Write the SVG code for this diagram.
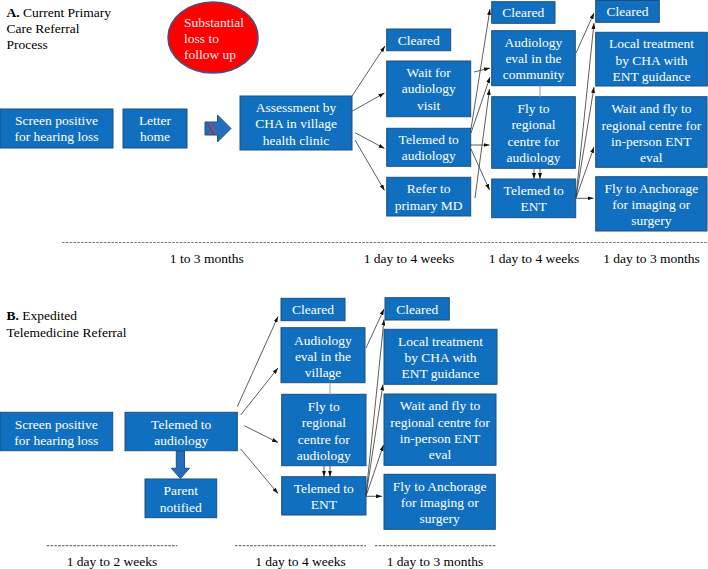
<svg xmlns="http://www.w3.org/2000/svg" width="708" height="569" viewBox="0 0 708 569">
<defs>
<style>
.bx{fill:#116fc0;stroke:#1d4f80;stroke-width:1}
.t{font-family:"Liberation Serif","Times New Roman",serif;font-size:13.5px;fill:#fff;text-anchor:middle}
.h{font-family:"Liberation Serif","Times New Roman",serif;font-size:13.5px;fill:#000}
.lb{font-family:"Liberation Serif","Times New Roman",serif;font-size:13.5px;fill:#000;text-anchor:middle}
.c{stroke:#333;stroke-width:0.8;fill:none;marker-end:url(#ah)}
.g{stroke:#a8aeb8;stroke-width:1.2;fill:none}
.d{stroke:#777;stroke-width:1.2;stroke-dasharray:2.6 1.2;fill:none}
.ba{fill:#1f6fbe;stroke:#2b4f7e;stroke-width:1}
</style>
<marker id="ah" viewBox="0 0 6 4" refX="6" refY="2" markerWidth="6" markerHeight="4" markerUnits="userSpaceOnUse" orient="auto"><path d="M0,0 L6,2 L0,4 z" fill="#111"/></marker>
</defs>
<rect width="708" height="569" fill="#fff"/>

<!-- Panel A -->
<g id="titleA"><text class="h" x="6.5" y="16.5"><tspan font-weight="bold">A.</tspan> Current Primary</text><text class="h" x="6.5" y="33">Care Referral</text><text class="h" x="6.5" y="49">Process</text></g>

<g id="lossA"><ellipse cx="213" cy="37.5" rx="45" ry="35.5" fill="#fe0000" stroke="#44508a" stroke-width="1.5"/>
<text class="h" x="184" y="27" style="fill:#ffeef0">Substantial</text><text class="h" x="184" y="43" style="fill:#ffeef0">loss to</text><text class="h" x="184" y="58.5" style="fill:#ffeef0">follow up</text></g>

<g id="screenA"><rect class="bx" x="0" y="109" width="113" height="39"/><text class="t" x="56.5" y="125">Screen positive</text><text class="t" x="56.5" y="141">for hearing loss</text></g>
<g id="letterA"><rect class="bx" x="123" y="109" width="64" height="39"/><text class="t" x="155" y="125">Letter</text><text class="t" x="155" y="141">home</text></g>
<g id="blockArrowA"><path class="ba" d="M205,122 L217.5,122 L217.5,115 L231,128.5 L217.5,142 L217.5,135 L205,135 Z"/><text x="211.5" y="134" font-family="Liberation Serif, serif" font-size="15" fill="#b8303e" text-anchor="middle">X</text></g>
<g id="assessA"><rect class="bx" x="240" y="96" width="112" height="54"/><text class="t" x="296" y="111.5">Assessment by</text><text class="t" x="296" y="128">CHA in village</text><text class="t" x="296" y="144.5">health clinic</text></g>

<g id="clearedA2"><rect class="bx" x="386.7" y="29" width="64" height="21.7"/><text class="t" x="418.7" y="44.5">Cleared</text></g>
<g id="waitAud"><rect class="bx" x="386.7" y="61" width="84" height="55.7"/><text class="t" x="428.7" y="77">Wait for</text><text class="t" x="428.7" y="93.3">audiology</text><text class="t" x="428.7" y="109.5">visit</text></g>
<g id="telAudA"><rect class="bx" x="386.7" y="128.3" width="84" height="38"/><text class="t" x="428.7" y="143.7">Telemed to</text><text class="t" x="428.7" y="160">audiology</text></g>
<g id="referMD"><rect class="bx" x="386.7" y="177.3" width="84" height="38.7"/><text class="t" x="428.7" y="193">Refer to</text><text class="t" x="428.7" y="209.5">primary MD</text></g>

<g id="clearedA3"><rect class="bx" x="491.7" y="1.7" width="63.3" height="21.6"/><text class="t" x="523.3" y="17">Cleared</text></g>
<g id="audEvalA"><rect class="bx" x="491.7" y="30.7" width="83.6" height="55"/><text class="t" x="533.5" y="46.8">Audiology</text><text class="t" x="533.5" y="63.2">eval in the</text><text class="t" x="533.5" y="79.3">community</text></g>
<g id="flyAudA"><rect class="bx" x="491.7" y="96.7" width="83.6" height="71.6"/><text class="t" x="533.5" y="112.8">Fly to</text><text class="t" x="533.5" y="129.3">regional</text><text class="t" x="533.5" y="145.7">centre for</text><text class="t" x="533.5" y="162">audiology</text></g>
<g id="telEntA"><rect class="bx" x="491.7" y="179" width="84" height="38.7"/><text class="t" x="533.7" y="194.8">Telemed to</text><text class="t" x="533.7" y="211.2">ENT</text></g>

<g id="clearedA4"><rect class="bx" x="595.7" y="0.5" width="63.6" height="21.8"/><text class="t" x="627.5" y="16">Cleared</text></g>
<g id="localA"><rect class="bx" x="595.7" y="32.3" width="111.6" height="53.7"/><text class="t" x="651.5" y="48">Local treatment</text><text class="t" x="651.5" y="64.5">by CHA with</text><text class="t" x="651.5" y="80.5">ENT guidance</text></g>
<g id="waitFlyA"><rect class="bx" x="595.7" y="96.7" width="111.3" height="70.6"/><text class="t" x="651.3" y="112.8">Wait and fly to</text><text class="t" x="651.3" y="129.5">regional centre for</text><text class="t" x="651.3" y="145.8">in-person ENT</text><text class="t" x="651.3" y="162">eval</text></g>
<g id="anchA"><rect class="bx" x="595.7" y="176.7" width="111.3" height="54.3"/><text class="t" x="651.3" y="193">Fly to Anchorage</text><text class="t" x="651.3" y="209.2">for imaging or</text><text class="t" x="651.3" y="225.3">surgery</text></g>

<g id="timelineA">
<line class="d" x1="62" y1="242.5" x2="708" y2="242.5"/>
<text class="lb" x="206.7" y="263">1 to 3 months</text>
<text class="lb" x="409" y="263">1 day to 4 weeks</text>
<text class="lb" x="534" y="263">1 day to 4 weeks</text>
<text class="lb" x="651.5" y="263">1 day to 3 months</text>
</g>

<!-- Panel B -->
<g id="titleB"><text class="h" x="6.5" y="320"><tspan font-weight="bold">B.</tspan> Expedited</text><text class="h" x="6.5" y="336.5">Telemedicine Referral</text></g>

<g id="screenB"><rect class="bx" x="0" y="412.3" width="112.7" height="38.4"/><text class="t" x="56.3" y="428.5">Screen positive</text><text class="t" x="56.3" y="445">for hearing loss</text></g>
<g id="telAudB"><rect class="bx" x="125" y="412.3" width="112.3" height="38.4"/><text class="t" x="181.2" y="428.5">Telemed to</text><text class="t" x="181.2" y="445">audiology</text></g>
<g id="blockArrowB"><path class="ba" d="M176.3,451 L184.5,451 L184.5,468.3 L189.5,468.3 L180.4,478.5 L171.3,468.3 L176.3,468.3 Z"/></g>
<g id="parentB"><rect class="bx" x="145" y="479" width="71.7" height="38.7"/><text class="t" x="180.8" y="495">Parent</text><text class="t" x="180.8" y="511.5">notified</text></g>

<g id="clearedB2"><rect class="bx" x="281" y="298.3" width="64" height="22.4"/><text class="t" x="313" y="314">Cleared</text></g>
<g id="audEvalB"><rect class="bx" x="281" y="327.7" width="84" height="55"/><text class="t" x="323" y="344.5">Audiology</text><text class="t" x="323" y="361">eval in the</text><text class="t" x="323" y="377">village</text></g>
<g id="flyAudB"><rect class="bx" x="281.7" y="394.3" width="84.3" height="71.4"/><text class="t" x="323.8" y="410.5">Fly to</text><text class="t" x="323.8" y="427">regional</text><text class="t" x="323.8" y="443.5">centre for</text><text class="t" x="323.8" y="459.8">audiology</text></g>
<g id="telEntB"><rect class="bx" x="281.7" y="476.7" width="84.3" height="38.3"/><text class="t" x="323.8" y="492.8">Telemed to</text><text class="t" x="323.8" y="509.2">ENT</text></g>

<g id="clearedB3"><rect class="bx" x="385" y="297.7" width="64.3" height="22.3"/><text class="t" x="417.2" y="313.5">Cleared</text></g>
<g id="localB"><rect class="bx" x="384" y="329.3" width="113" height="55"/><text class="t" x="440.5" y="345.5">Local treatment</text><text class="t" x="440.5" y="362">by CHA with</text><text class="t" x="440.5" y="378">ENT guidance</text></g>
<g id="waitFlyB"><rect class="bx" x="384" y="394" width="112" height="71.3"/><text class="t" x="440" y="410">Wait and fly to</text><text class="t" x="440" y="426.5">regional centre for</text><text class="t" x="440" y="442.8">in-person ENT</text><text class="t" x="440" y="459">eval</text></g>
<g id="anchB"><rect class="bx" x="384" y="474.3" width="111.3" height="55"/><text class="t" x="439.7" y="490.5">Fly to Anchorage</text><text class="t" x="439.7" y="507">for imaging or</text><text class="t" x="439.7" y="523">surgery</text></g>

<g id="timelineB">
<line class="d" x1="46.7" y1="545.7" x2="177.3" y2="545.7"/>
<line class="d" x1="235" y1="545.7" x2="366" y2="545.7"/>
<line class="d" x1="375" y1="545.7" x2="496.7" y2="545.7"/>
<text class="lb" x="112" y="565.5">1 day to 2 weeks</text>
<text class="lb" x="300.5" y="565.5">1 day to 4 weeks</text>
<text class="lb" x="435" y="565.5">1 day to 3 months</text>
</g>

<g id="connectors">
<!-- A -->
<line class="c" x1="352" y1="96" x2="385" y2="46"/>
<line class="c" x1="352.5" y1="111" x2="384.5" y2="93"/>
<line class="c" x1="355" y1="132.7" x2="384.5" y2="148.5"/>
<line class="c" x1="355" y1="140" x2="384.5" y2="190.5"/>
<line class="c" x1="474" y1="72" x2="490" y2="68"/>
<line class="c" x1="471" y1="129" x2="490" y2="9"/>
<line class="c" x1="471" y1="133" x2="490" y2="77"/>
<line class="c" x1="471" y1="145" x2="489.5" y2="145"/>
<line class="c" x1="471" y1="149" x2="489.5" y2="190"/>
<line class="c" x1="475" y1="198" x2="489.5" y2="89"/>
<line class="c" x1="576" y1="53" x2="594" y2="13"/>
<line class="c" x1="576" y1="197" x2="594" y2="23"/>
<line class="c" x1="576" y1="197.5" x2="594" y2="87"/>
<line class="c" x1="576" y1="198" x2="594" y2="147"/>
<line class="c" x1="576" y1="198.3" x2="593.5" y2="198.3"/>
<line class="g" x1="540" y1="85.7" x2="540" y2="96.7"/>
<line class="c" x1="534" y1="168.3" x2="534" y2="179"/>
<line class="c" x1="540" y1="168.3" x2="540" y2="179"/>
<!-- B -->
<line class="c" x1="237.3" y1="406.7" x2="278" y2="316.5"/>
<line class="c" x1="240.7" y1="415" x2="278" y2="368"/>
<line class="c" x1="244.3" y1="425.7" x2="278" y2="442.5"/>
<line class="c" x1="240.7" y1="449" x2="278" y2="493.5"/>
<line class="c" x1="366" y1="348" x2="384" y2="309"/>
<line class="c" x1="366" y1="495" x2="384" y2="319.5"/>
<line class="c" x1="366" y1="495.5" x2="383" y2="384.5"/>
<line class="c" x1="366" y1="496" x2="383.5" y2="445"/>
<line class="c" x1="366" y1="496.3" x2="382" y2="496.3"/>
<line class="g" x1="330" y1="382.7" x2="330" y2="394.3"/>
<line class="c" x1="324" y1="465.7" x2="324" y2="476.7"/>
<line class="c" x1="330" y1="465.7" x2="330" y2="476.7"/>
</g>
</svg>
